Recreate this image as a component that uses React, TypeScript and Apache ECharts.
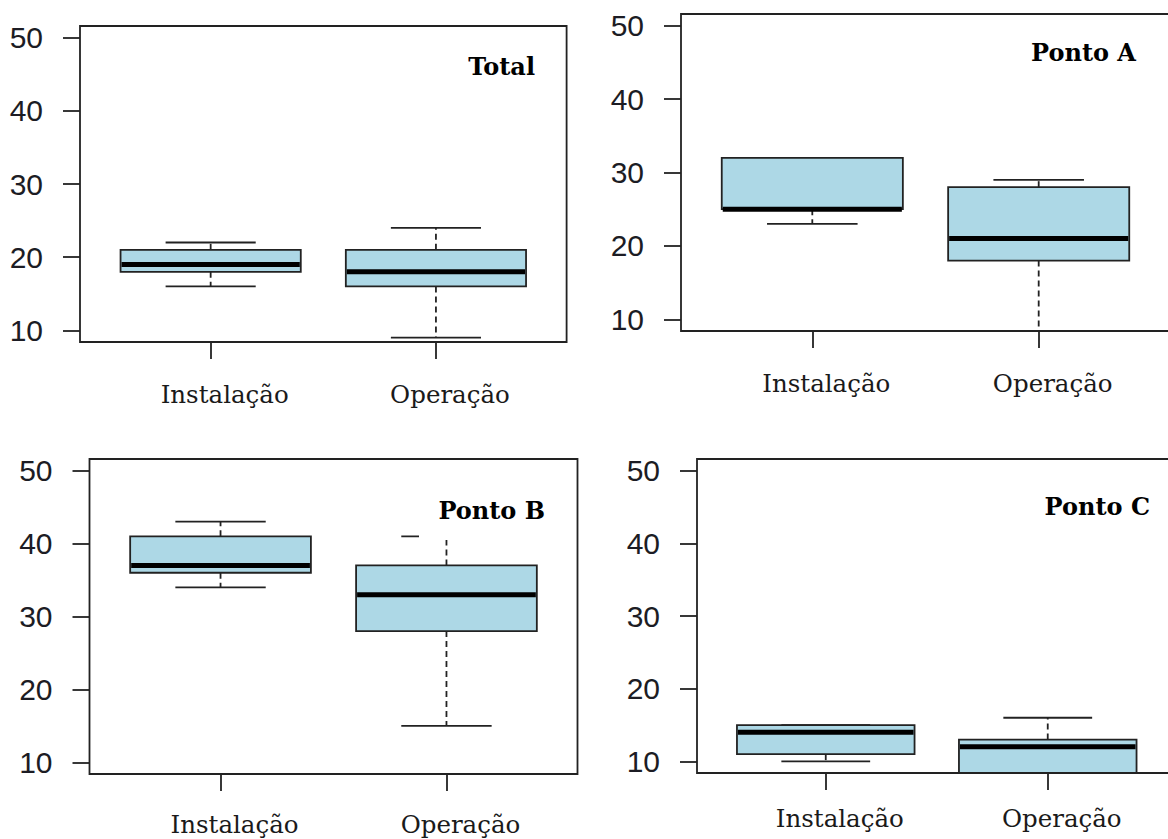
import React, { useEffect, useRef } from 'react';
import * as echarts from 'echarts';

// Category names and where they sit on the x scale
const categories = ['Instalação', 'Operação'];
const categoryPositions = [1, 2];
const yTicks = [10, 20, 30, 40, 50];
const panelTitles = ['Total', 'Ponto A', 'Ponto B', 'Ponto C'];

// Five-number summaries: [lower whisker, Q1, median, Q3, upper whisker]
const totalInstalacao = [16, 18, 19, 21, 22];
const totalOperacao = [9, 16, 18, 21, 24];
const pontoAInstalacao = [23, 25, 25, 32, 32];
const pontoAOperacao = [6, 18, 21, 28, 29];
const pontoBInstalacao = [34, 36, 37, 41, 43];
const pontoBOperacao = [15, 28, 33, 37, 41];
const pontoCInstalacao = [10, 11, 14, 15, 15];
const pontoCOperacao = [4, 7, 12, 13, 16];

const panelStats = [
  [totalInstalacao, totalOperacao],
  [pontoAInstalacao, pontoAOperacao],
  [pontoBInstalacao, pontoBOperacao],
  [pontoCInstalacao, pontoCOperacao],
];

// R-style axis limits (4% padding around 0.5..2.5 and 10..50)
const X_RANGE = [0.42, 2.58];
const Y_RANGE = [8.4, 51.6];
const BOX_WIDTH = 0.8;

// Panel frames and text placement (pixels)
const panelLayout = [
  { left: 80, top: 26, width: 486.6, height: 316, xLabelMargin: 40, titleRight: 535, titleY: 66 },
  { left: 681, top: 14, width: 489, height: 317, xLabelMargin: 40, titleRight: 1136, titleY: 52 },
  { left: 89.5, top: 459, width: 488, height: 315, xLabelMargin: 38, titleRight: 545, titleY: 510 },
  { left: 697, top: 459, width: 479.5, height: 314, xLabelMargin: 33, titleRight: 1150, titleY: 506 },
];

const INK = '#222222';
const BOX_FILL = '#ADD8E6';

function renderBox(params: any, api: any) {
  const x = api.value(0);
  const lo = api.coord([x, api.value(1)]);
  const q1 = api.coord([x, api.value(2)]);
  const med = api.coord([x, api.value(3)]);
  const q3 = api.coord([x, api.value(4)]);
  const hi = api.coord([x, api.value(5)]);
  const w = api.size([BOX_WIDTH, 0])[0];
  const cx = lo[0];
  const dashed = { stroke: INK, lineWidth: 1.8, lineDash: [6, 4], fill: null };
  const solid = { stroke: INK, lineWidth: 1.8, fill: null };
  return {
    type: 'group',
    children: [
      { type: 'line', shape: { x1: cx, y1: q3[1], x2: cx, y2: hi[1] }, style: dashed },
      { type: 'line', shape: { x1: cx, y1: q1[1], x2: cx, y2: lo[1] }, style: dashed },
      { type: 'line', shape: { x1: cx - w / 4, y1: hi[1], x2: cx + w / 4, y2: hi[1] }, style: solid },
      { type: 'line', shape: { x1: cx - w / 4, y1: lo[1], x2: cx + w / 4, y2: lo[1] }, style: solid },
      {
        type: 'rect',
        shape: { x: cx - w / 2, y: q3[1], width: w, height: q1[1] - q3[1] },
        style: { fill: BOX_FILL, stroke: INK, lineWidth: 1.8 },
      },
      {
        type: 'line',
        shape: { x1: cx - w / 2 + 1, y1: med[1], x2: cx + w / 2 - 1, y2: med[1] },
        style: { stroke: '#000', lineWidth: 5, fill: null },
      },
    ],
  };
}

function buildOption() {
  const grid: any[] = [];
  const xAxis: any[] = [];
  const yAxis: any[] = [];
  const series: any[] = [];
  const graphic: any[] = [];

  panelLayout.forEach((p, i) => {
    grid.push({
      left: p.left,
      top: p.top,
      width: p.width,
      height: p.height,
      show: true,
      borderColor: INK,
      borderWidth: 1.8,
      backgroundColor: 'transparent',
      outerBoundsMode: 'none',
      containLabel: false,
      z: 5,
    });
    xAxis.push({
      type: 'value',
      gridIndex: i,
      min: X_RANGE[0],
      max: X_RANGE[1],
      axisLine: { show: false },
      splitLine: { show: false },
      axisTick: {
        show: true,
        customValues: categoryPositions,
        length: 17,
        lineStyle: { color: INK, width: 1.8 },
      },
      axisLabel: {
        show: true,
        customValues: categoryPositions,
        formatter: (v: number) => categories[categoryPositions.indexOf(v)] ?? '',
        margin: p.xLabelMargin,
        fontFamily: '"DejaVu Serif", serif',
        fontSize: 24.5,
        lineHeight: 25,
        color: '#1a1a1a',
        padding: [0, 0, 0, 28],
      },
    });
    yAxis.push({
      type: 'value',
      gridIndex: i,
      min: Y_RANGE[0],
      max: Y_RANGE[1],
      axisLine: { show: false },
      splitLine: { show: false },
      axisTick: {
        show: true,
        customValues: yTicks,
        length: 17,
        lineStyle: { color: INK, width: 1.8 },
      },
      axisLabel: {
        show: true,
        customValues: yTicks,
        margin: 37,
        fontFamily: '"Liberation Sans", Arial, sans-serif',
        fontSize: 30,
        color: '#1c1c24',
        padding: [5, 0, 0, 0],
      },
    });
    series.push({
      type: 'custom',
      xAxisIndex: i,
      yAxisIndex: i,
      clip: true,
      renderItem: renderBox,
      encode: { x: 0, y: [1, 2, 3, 4, 5] },
      data: panelStats[i].map((s, k) => [categoryPositions[k], ...s]),
    });

    // White legend-style box behind each panel title
    graphic.push({
      type: 'rect',
      z: 10,
      shape: { x: p.titleRight - 126, y: p.titleY - 30, width: 148, height: 60 },
      style: { fill: '#ffffff' },
    });
    graphic.push({
      type: 'text',
      z: 11,
      x: p.titleRight,
      y: p.titleY,
      style: {
        text: panelTitles[i],
        align: 'right',
        verticalAlign: 'middle',
        fontFamily: '"DejaVu Serif", serif',
        fontWeight: 'bold',
        fontSize: 24,
        fill: '#000',
      },
    });
  });

  return {
    animation: false,
    backgroundColor: '#ffffff',
    grid,
    xAxis,
    yAxis,
    series,
    graphic,
  };
}

export default function App() {
  const ref = useRef<HTMLDivElement>(null);
  useEffect(() => {
    if (!ref.current) return;
    const chart = echarts.init(ref.current, undefined, { renderer: 'svg' });
    chart.setOption(buildOption() as any);
    return () => chart.dispose();
  }, []);
  return (
    <div
      ref={ref}
      style={{ position: 'absolute', left: 0, top: 0, width: 1168, height: 839 }}
    />
  );
}
